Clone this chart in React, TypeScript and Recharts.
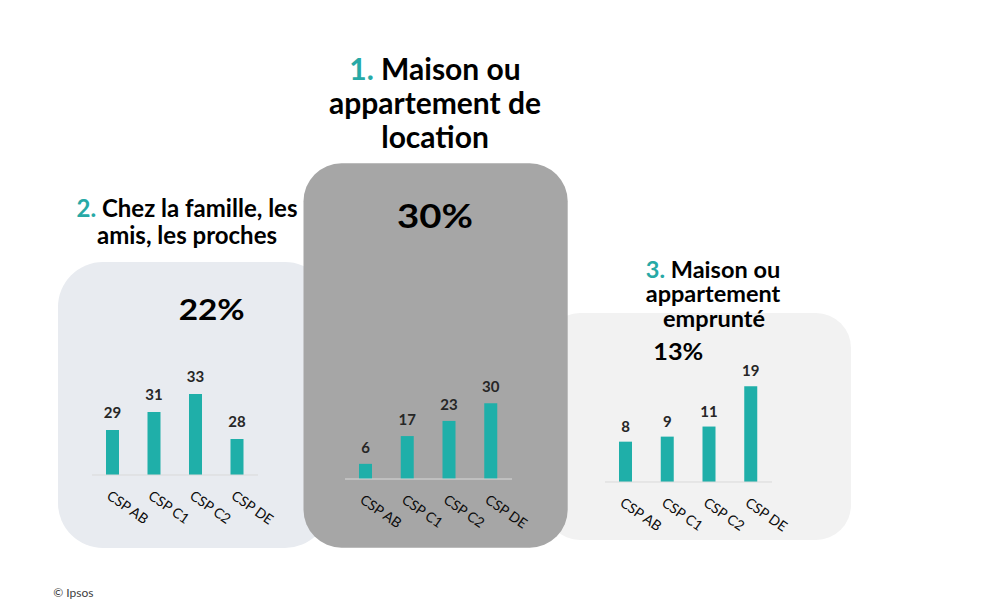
import React from 'react';
import { BarChart, Bar, XAxis, YAxis, LabelList } from 'recharts';

const categories = ['CSP AB', 'CSP C1', 'CSP C2', 'CSP DE'];
const familleValues = [29, 31, 33, 28];
const locationValues = [6, 17, 23, 30];
const emprunteValues = [8, 9, 11, 19];

const totalLocation = '30%';
const totalFamille = '22%';
const totalEmprunte = '13%';

const TEAL = '#1FAFA9';
const TEAL_TEXT = '#27A9A6';
const FONT = 'Lato, "Open Sans", sans-serif';

const toRows = (vals: number[]) => categories.map((c, i) => ({ cat: c, v: vals[i] }));

const CatTick = (props: any) => {
  const { x, y, payload } = props;
  const tx = x - 7;
  const ty = y + 23;
  return (
    <text
      x={tx}
      y={ty}
      transform={`rotate(35, ${tx}, ${ty})`}
      textAnchor="start"
      fontFamily={FONT}
      fontSize={14}
      fill="#0d0d0d"
    >
      {payload.value}
    </text>
  );
};

type MiniProps = {
  vals: number[];
  left: number;
  top: number;
  width: number;
  height: number;
  marginTop: number;
  domain: [number, number];
  labelOffset: number;
};

const MiniChart = ({ vals, left, top, width, height, marginTop, domain, labelOffset }: MiniProps) => (
  <div style={{ position: 'absolute', left, top, width, height }}>
    <BarChart
      width={width}
      height={height}
      data={toRows(vals)}
      margin={{ top: marginTop, right: 20, left: 20, bottom: 10 }}
      style={{ overflow: 'visible' }}
    >
      <YAxis hide domain={domain} type="number" />
      <XAxis
        dataKey="cat"
        axisLine={{ stroke: '#D9D9D9', strokeWidth: 1 }}
        tickLine={false}
        tickSize={0}
        tickMargin={0}
        height={60}
        interval={0}
        tick={(p: any) => <CatTick {...p} />}
      />
      <Bar dataKey="v" fill={TEAL} barSize={13} isAnimationActive={false}>
        <LabelList
          dataKey="v"
          position="top"
          offset={labelOffset}
          fill="#262626"
          fontFamily={FONT}
          fontWeight={700}
          fontSize={15}
        />
      </Bar>
    </BarChart>
  </div>
);

export default function App() {
  return (
    <div
      style={{
        position: 'absolute',
        left: 0,
        top: 0,
        width: 1000,
        height: 608,
        background: '#ffffff',
        overflow: 'hidden',
      }}
    >
      <svg width={1000} height={608} style={{ position: 'absolute', left: 0, top: 0 }}>
        <rect x={58} y={262} width={272} height={286} rx={45} ry={45} fill="#E8EBF0" />
        <rect x={545} y={313} width={306} height={227} rx={35} ry={35} fill="#F2F2F2" />
        <rect x={303.5} y={163.3} width={264.2} height={384.4} rx={38} ry={38} fill="#A6A6A6" />
      </svg>

      <MiniChart vals={familleValues} left={72} top={330} width={206} height={215} marginTop={37} domain={[24, 36]} labelOffset={12} />
      <MiniChart vals={locationValues} left={325} top={340} width={207} height={209} marginTop={38} domain={[0, 40]} labelOffset={11} />
      <MiniChart vals={emprunteValues} left={585} top={324} width={207} height={228} marginTop={37} domain={[0, 24]} labelOffset={10} />

      <svg width={1000} height={608} style={{ position: 'absolute', left: 0, top: 0, pointerEvents: 'none' }}>
        <g fontFamily={FONT} fontWeight={700} fill="#000000" textAnchor="middle">
          <text x={435} y={80} fontSize={30}>
            <tspan fill={TEAL_TEXT}>1.</tspan>
            <tspan> Maison ou</tspan>
            <tspan x={435} dy={34}>appartement de</tspan>
            <tspan x={435} dy={34}>location</tspan>
          </text>

          <text x={187} y={216.5} fontSize={24}>
            <tspan fill={TEAL_TEXT}>2.</tspan>
            <tspan> Chez la famille, les</tspan>
            <tspan x={187} dy={27}>amis, les proches</tspan>
          </text>

          <text x={713} y={277.5} fontSize={23.5}>
            <tspan fill={TEAL_TEXT}>3.</tspan>
            <tspan> Maison ou</tspan>
            <tspan x={713} dy={24.5}>appartement</tspan>
            <tspan x={714} dy={24.5}>emprunté</tspan>
          </text>

          <text x={435} y={228.3} fontSize={33} textLength={76} lengthAdjust="spacingAndGlyphs">{totalLocation}</text>
          <text x={211.7} y={320} fontSize={28.5} textLength={66} lengthAdjust="spacingAndGlyphs">{totalFamille}</text>
          <text x={678.3} y={360} fontSize={23.5} textLength={50} lengthAdjust="spacingAndGlyphs">{totalEmprunte}</text>
        </g>
        <text x={53.3} y={596.7} fontFamily={FONT} fontSize={12} fill="#404040">© Ipsos</text>
      </svg>
    </div>
  );
}
